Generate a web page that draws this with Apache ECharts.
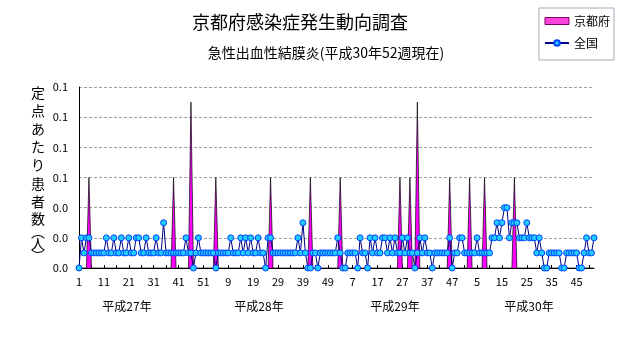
<!DOCTYPE html>
<html><head><meta charset="utf-8">
<script src="https://cdn.jsdelivr.net/npm/echarts@6/dist/echarts.min.js"></script>
<style>html,body{margin:0;padding:0;background:#fff}#c{width:631px;height:347px}</style>
</head><body><div id="c"></div>
<script>
// ---- data ----
const titleText = '京都府感染症発生動向調査';
const subtitleText = '急性出血性結膜炎(平成30年52週現在)';
const yAxisName = ['定','点','あ','た','り','患','者','数','︵','人','︶'];
const years = ['平成27年', '平成28年', '平成29年', '平成30年'];
const weekCount = 52;
const seriesNames = ['京都府', '全国'];

// 京都府 (per sentinel), one value per week
const kyoto2015 = [0,0,0,0,0.06,0,0,0,0,0,0,0,0,0,0,0,0,0,0,0,0,0,0,0,0,0,0,0,0,0,0,0,0,0,0,0,0,0,0.06,0,0,0,0,0,0,0.11,0,0,0,0,0,0];
const kyoto2016 = [0,0,0,0.06,0,0,0,0,0,0,0,0,0,0,0,0,0,0,0,0,0,0,0,0,0,0.06,0,0,0,0,0,0,0,0,0,0,0,0,0,0,0,0.06,0,0,0,0,0,0,0,0,0,0];
const kyoto2017 = [0,0.06,0,0,0,0,0,0,0,0,0,0,0,0,0,0,0,0,0,0,0,0,0,0,0,0.06,0,0,0,0.06,0,0,0.11,0,0,0,0,0,0,0,0,0,0,0,0,0.06,0,0,0,0,0,0];
const kyoto2018 = [0,0.06,0,0,0,0,0,0.06,0,0,0,0,0,0,0,0,0,0,0,0.06,0,0,0,0,0,0,0,0,0,0,0,0,0,0,0,0,0,0,0,0,0,0,0,0,0,0,0,0,0,0,0,0];

// 全国 (per sentinel), one value per week
const zenkoku2015 = [0,0.02,0.01,0.02,0.02,0.01,0.01,0.01,0.01,0.01,0.01,0.02,0.01,0.01,0.02,0.01,0.01,0.02,0.01,0.01,0.02,0.01,0.01,0.02,0.02,0.01,0.01,0.02,0.01,0.01,0.01,0.02,0.01,0.01,0.03,0.01,0.01,0.01,0.01,0.01,0.01,0.01,0.01,0.02,0.01,0.01,0,0.01,0.02,0.01,0.01,0.01];
const zenkoku2016 = [0.01,0.01,0.01,0,0.01,0.01,0.01,0.01,0.01,0.02,0.01,0.01,0.01,0.02,0.01,0.02,0.01,0.02,0.01,0.01,0.02,0.01,0.01,0,0.02,0.02,0.01,0.01,0.01,0.01,0.01,0.01,0.01,0.01,0.01,0.01,0.02,0.01,0.03,0.01,0,0,0.01,0.01,0,0.01,0.01,0.01,0.01,0.01,0.01,0.01];
const zenkoku2017 = [0.02,0.01,0,0,0.01,0.01,0.01,0.01,0,0.02,0.01,0.01,0,0.02,0.01,0.02,0.01,0.01,0.02,0.02,0.01,0.02,0.01,0.02,0.01,0.01,0.02,0.01,0.02,0.01,0.01,0,0.01,0.02,0.01,0.02,0.01,0.01,0,0.01,0.01,0.01,0.01,0.01,0.01,0.02,0,0.01,0.01,0.02,0.02,0.01];
const zenkoku2018 = [0.01,0.01,0.01,0.01,0.02,0.01,0.01,0.01,0.01,0.01,0.02,0.02,0.03,0.02,0.03,0.04,0.04,0.02,0.03,0.03,0.03,0.02,0.02,0.02,0.03,0.02,0.02,0.02,0.01,0.02,0.01,0,0,0.01,0.01,0.01,0.01,0.01,0,0,0.01,0.01,0.01,0.01,0.01,0,0,0.01,0.02,0.01,0.01,0.02];

const yMin = 0, yMax = 0.12, yStep = 0.02;
const yLabelDigits = 1;

// ---- build ----
const categories = [];
years.forEach((y, yi) => { for (let w = 1; w <= weekCount; w++) categories.push(yi + '|' + w); });
const kyoto = [].concat(kyoto2015, kyoto2016, kyoto2017, kyoto2018);
const zenkoku = [].concat(zenkoku2015, zenkoku2016, zenkoku2017, zenkoku2018);

const FONT = '"Noto Sans CJK JP", "Noto Sans", sans-serif';
const chart = echarts.init(document.getElementById('c'), null, {renderer: 'canvas'});

const yearLabelX = [127, 259, 395, 529];
const nameCharY = [93, 111, 129, 147, 165, 184, 202, 219, 232, 244, 256];

chart.setOption({
  animation: false,
  backgroundColor: '#ffffff',
  textStyle: {fontFamily: FONT},
  grid: {left: 79, right: 37, top: 87, bottom: 79, containLabel: false},
  legend: {
    orient: 'vertical', right: 17, top: 8,
    padding: [7, 4, 11, 5],
    borderColor: '#a8a8b8', borderWidth: 1,
    itemWidth: 24, itemHeight: 7, itemGap: 10,
    textStyle: {fontFamily: FONT, fontSize: 12, color: '#000'},
    data: [
      {name: seriesNames[0], icon: 'rect', itemStyle: {color: '#ff44dd', borderColor: '#800060', borderWidth: 1}},
      {name: seriesNames[1]}
    ]
  },
  xAxis: {
    type: 'category', data: categories, boundaryGap: false,
    axisLine: {lineStyle: {color: '#000', width: 1}},
    axisTick: {show: true, inside: true, length: 3, interval: 4, lineStyle: {color: '#000'}},
    axisLabel: {interval: 9, color: '#000', fontSize: 11, margin: 8, fontFamily: FONT,
      formatter: v => v.split('|')[1]},
    splitLine: {show: false}
  },
  yAxis: {
    type: 'value', min: yMin, max: yMax, interval: yStep,
    axisLine: {show: true, lineStyle: {color: '#000', width: 1}},
    axisTick: {show: false},
    axisLabel: {color: '#000', fontSize: 11, margin: 11, fontFamily: FONT,
      formatter: v => v.toFixed(yLabelDigits)},
    splitLine: {show: true, lineStyle: {color: '#a0a0a0', type: [3, 2], width: 1}}
  },
  series: [
    {
      name: seriesNames[0], type: 'line', data: kyoto,
      symbol: 'none', z: 2,
      lineStyle: {color: '#000', width: 0.7},
      itemStyle: {color: '#ff00ff'},
      areaStyle: {color: '#ff00ff', opacity: 1}
    },
    {
      name: seriesNames[1], type: 'line', data: zenkoku,
      symbol: 'circle', symbolSize: 6, showAllSymbol: true, z: 3,
      lineStyle: {color: '#000080', width: 1},
      itemStyle: {color: '#22ccff', borderColor: '#0044ff', borderWidth: 1}
    }
  ],
  graphic: [
    {type: 'text', x: 300, y: 22, style: {text: titleText, font: '18px ' + FONT, fill: '#000', align: 'center', verticalAlign: 'middle'}},
    {type: 'text', x: 326, y: 53, style: {text: subtitleText, font: '14px ' + FONT, fill: '#000', align: 'center', verticalAlign: 'middle'}}
  ].concat(yAxisName.map((c, i) => ({type: 'text', x: 38, y: nameCharY[i], style: {text: c, font: '14px ' + FONT, fill: '#000', align: 'center', verticalAlign: 'middle'}})))
   .concat(years.map((t, i) => ({type: 'text', x: yearLabelX[i], y: 306, style: {text: t, font: '12px ' + FONT, fill: '#000', align: 'center', verticalAlign: 'middle'}})))
});
</script></body></html>
